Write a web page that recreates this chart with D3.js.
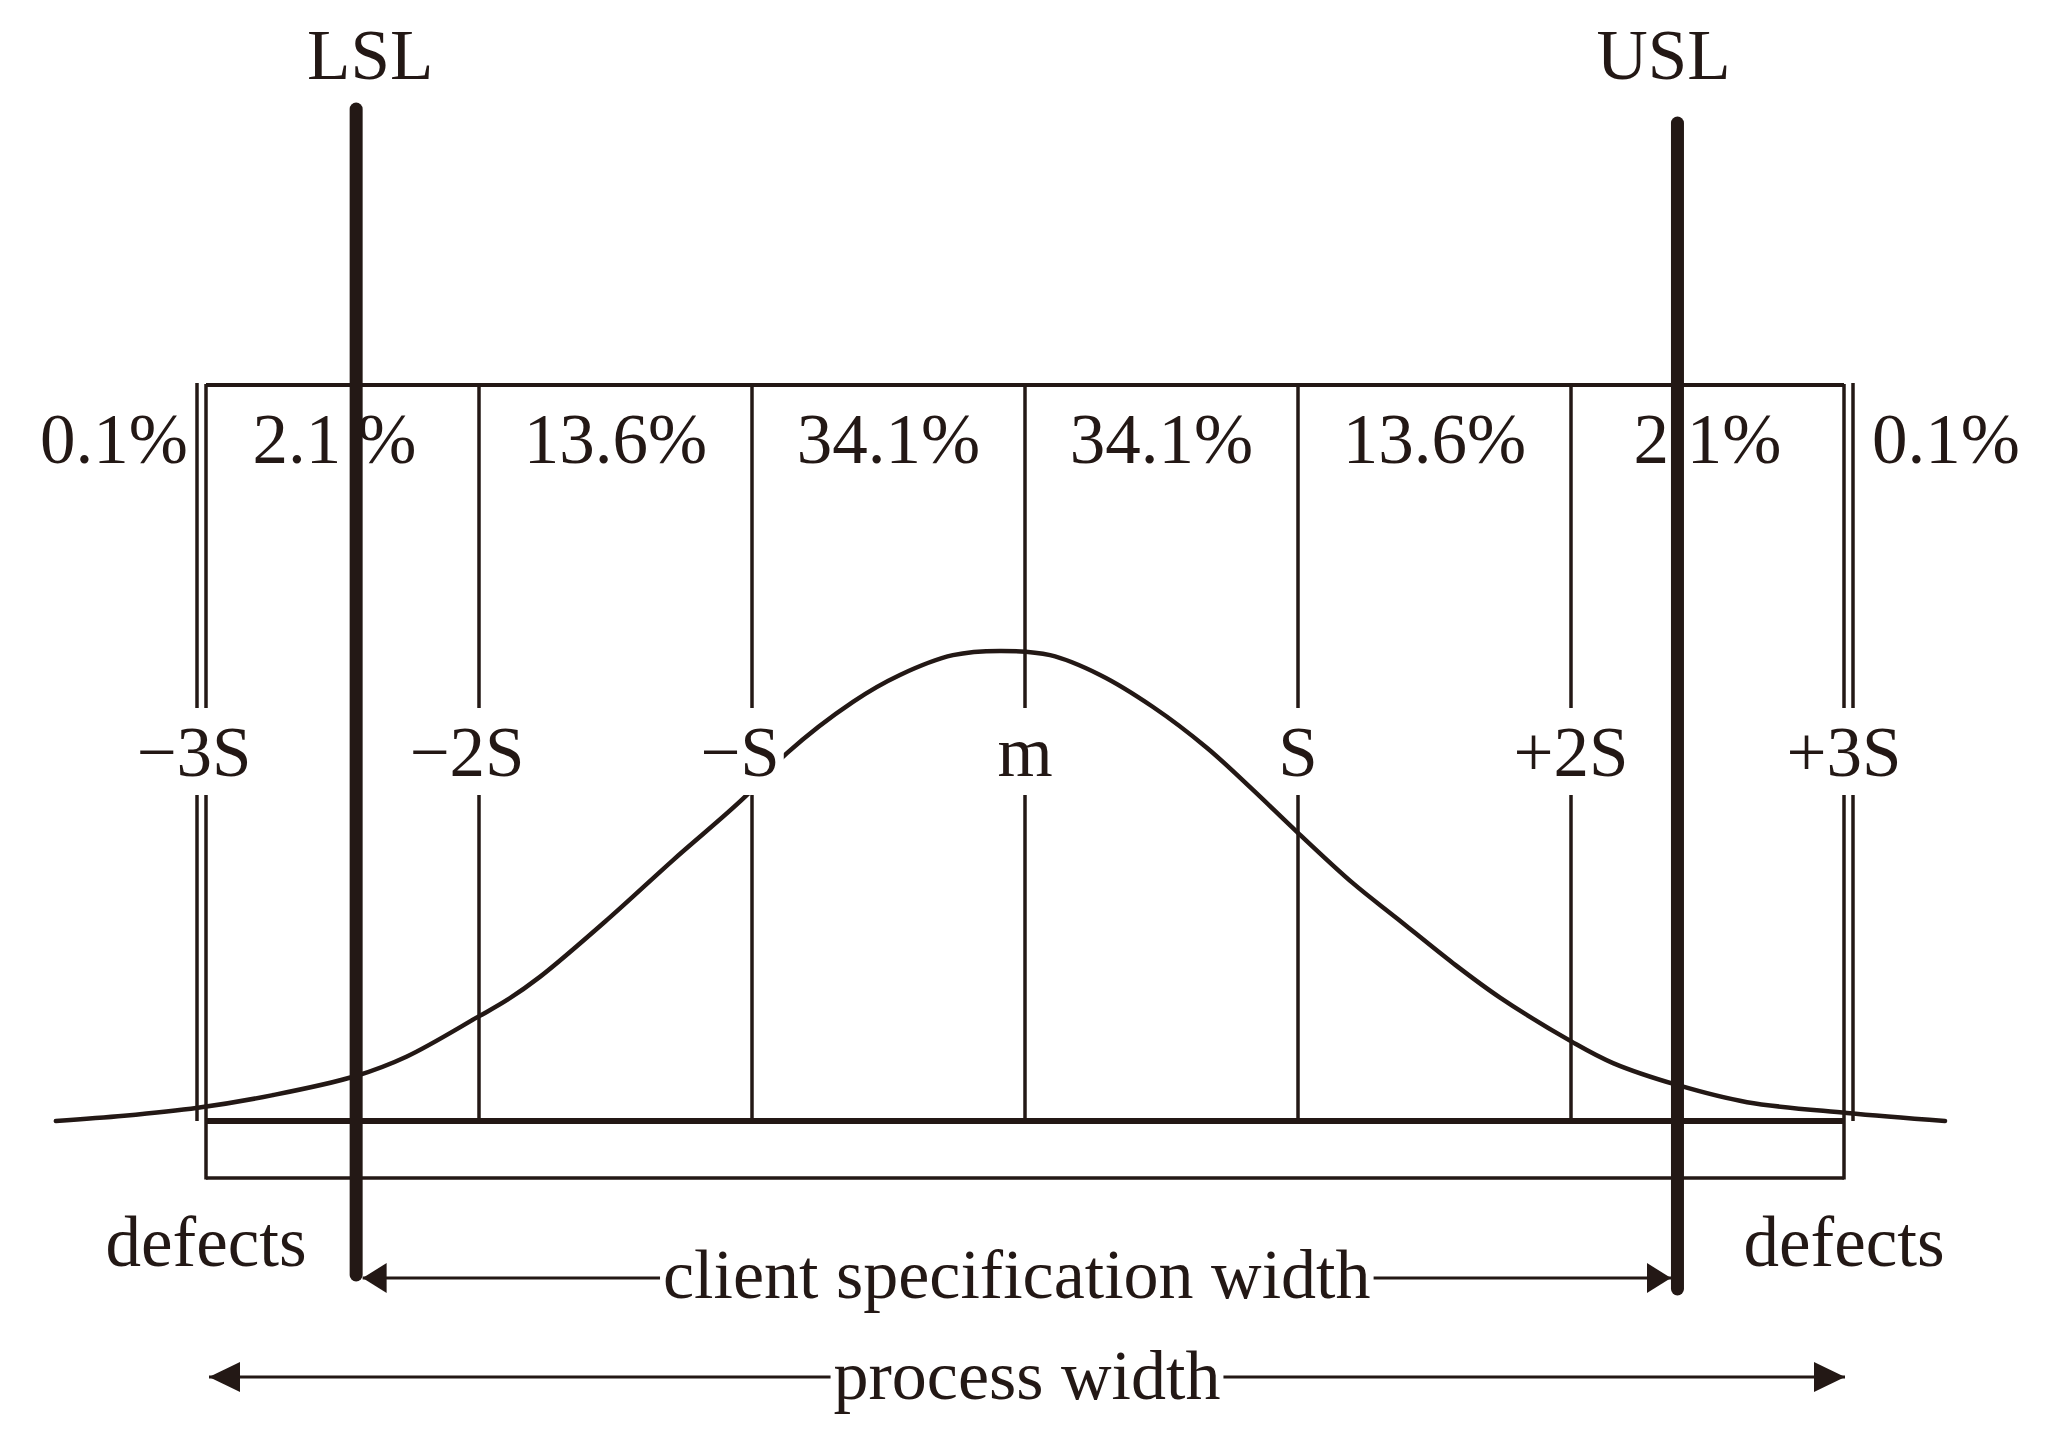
<!DOCTYPE html>
<html>
<head>
<meta charset="utf-8">
<script src="https://cdn.jsdelivr.net/npm/d3@7"></script>
<style>
  html, body { margin: 0; padding: 0; background: #ffffff; }
  svg { display: block; }
  text { font-family: "Liberation Serif", "Times New Roman", serif; fill: #231815; }
</style>
</head>
<body>
<svg id="chart" width="2060" height="1454"></svg>
<script>
// ---------- data ----------
const sigmaTicks = [-3, -2, -1, 0, 1, 2, 3];
const tickLabels = ["\u22123S", "\u22122S", "\u2212S", "m", "S", "+2S", "+3S"];
const bandShares = ["0.1%", "2.1%", "13.6%", "34.1%", "34.1%", "13.6%", "2.1%", "0.1%"];

// curve: position in sigma units, relative height (peak = 1)
const curveSigma = [-3.55, -3.30, -3.03, -2.755, -2.454, -2.264, -2.004, -1.897, -1.777, -1.531,
  -1.289, -1.026, -0.872, -0.630, -0.458, -0.264, -0.092, 0.092, 0.275, 0.469,
  0.667, 0.835, 0.996, 1.201, 1.363, 1.568, 1.740, 2.004, 2.154, 2.392,
  2.645, 3.011, 3.37];
const curveHeight = [0.0, 0.011, 0.028, 0.055, 0.095, 0.137, 0.221, 0.257, 0.306, 0.427,
  0.554, 0.688, 0.781, 0.890, 0.947, 0.989, 0.998, 0.989, 0.947, 0.879,
  0.792, 0.703, 0.614, 0.505, 0.430, 0.335, 0.262, 0.168, 0.123, 0.076,
  0.040, 0.017, 0.0];

const specNames = ["LSL", "USL"];
const specSigma = [-2.45, 2.39];
const tailLabel = "defects";
const clientLabel = "client specification width";
const processLabel = "process width";

// ---------- layout ----------
const INK = "#231815";
const svg = d3.select("#chart");
const x = d3.scaleLinear().domain([-3, 3]).range([206, 1844]);
const y = d3.scaleLinear().domain([0, 1]).range([1121, 650]);

const topY = 385, baseY = y(0), lowerY = 1178;
const fs = 71;

const g = svg.append("g");

// top line of the band box
g.append("line").attr("x1", x(-3)).attr("x2", x(3)).attr("y1", topY).attr("y2", topY)
  .attr("stroke", INK).attr("stroke-width", 4);

// column lines
g.selectAll("line.col").data(sigmaTicks).enter().append("line")
  .attr("class", "col")
  .attr("x1", d => x(d)).attr("x2", d => x(d))
  .attr("y1", topY - 1)
  .attr("y2", d => Math.abs(d) === 3 ? lowerY + 1.5 : baseY)
  .attr("stroke", INK).attr("stroke-width", 3.5);

// outer parallel lines at +-3S
g.selectAll("line.outer").data(sigmaTicks.filter(d => Math.abs(d) === 3)).enter().append("line")
  .attr("class", "outer")
  .attr("x1", d => x(d) + Math.sign(d) * 9).attr("x2", d => x(d) + Math.sign(d) * 9)
  .attr("y1", topY - 2).attr("y2", baseY)
  .attr("stroke", INK).attr("stroke-width", 3.5);

// lower box bottom line
g.append("line").attr("x1", x(-3)).attr("x2", x(3)).attr("y1", lowerY).attr("y2", lowerY)
  .attr("stroke", INK).attr("stroke-width", 3.5);

// thick base line
g.append("line").attr("x1", x(-3)).attr("x2", x(3)).attr("y1", baseY).attr("y2", baseY)
  .attr("stroke", INK).attr("stroke-width", 6);

// distribution curve
const curvePts = curveSigma.map((s, i) => [s, curveHeight[i]]);
const line = d3.line().x(d => x(d[0])).y(d => y(d[1])).curve(d3.curveCatmullRom.alpha(0.5));
g.append("path").datum(curvePts).attr("d", line)
  .attr("fill", "none").attr("stroke", INK).attr("stroke-width", 4.5)
  .attr("stroke-linecap", "round").attr("stroke-linejoin", "round");

// boundary labels with white knockout boxes
const tickG = g.selectAll("g.tick").data(sigmaTicks).enter().append("g").attr("class", "tick");
tickG.append("rect").attr("fill", "#ffffff");
tickG.append("text")
  .attr("x", d => x(d) + (d < 0 ? -12 : 0))
  .attr("y", 776)
  .attr("text-anchor", "middle")
  .attr("font-size", fs)
  .text((d, i) => tickLabels[i]);
tickG.each(function () {
  const t = d3.select(this).select("text").node().getBBox();
  d3.select(this).select("rect")
    .attr("x", t.x - 4).attr("width", t.width + 8)
    .attr("y", 708).attr("height", 87);
});

// band percentages
const bandPos = bandShares.map((s, i) => {
  if (i === 0) return x(-3) - 92;
  if (i === bandShares.length - 1) return x(3) + 102;
  return (x(sigmaTicks[i - 1]) + x(sigmaTicks[i])) / 2;
});
const pct = g.selectAll("text.pct").data(bandShares).enter().append("text")
  .attr("class", "pct")
  .attr("x", (d, i) => bandPos[i] - (i === 1 ? 8 : 0)).attr("y", 463)
  .attr("text-anchor", "middle").attr("font-size", fs);
pct.each(function (d, i) {
  const t = d3.select(this);
  if (i === 1) {
    // the reference leaves room for the LSL line before the percent sign
    t.append("tspan").text(d.slice(0, -1));
    t.append("tspan").attr("dx", 16).text("%");
  } else {
    t.text(d);
  }
});

// spec limit lines
const specTop = [109, 123], specBottom = [1275, 1289];
g.selectAll("line.spec").data(specSigma).enter().append("line")
  .attr("class", "spec")
  .attr("x1", d => x(d)).attr("x2", d => x(d))
  .attr("y1", (d, i) => specTop[i]).attr("y2", (d, i) => specBottom[i])
  .attr("stroke", INK).attr("stroke-width", 13).attr("stroke-linecap", "round");

g.selectAll("text.spec").data(specNames).enter().append("text")
  .attr("class", "spec")
  .attr("x", (d, i) => x(specSigma[i]) + (i === 0 ? 14 : -14))
  .attr("y", 79).attr("text-anchor", "middle").attr("font-size", fs)
  .text(d => d);

// defects labels
g.selectAll("text.defects").data([-3, 3]).enter().append("text")
  .attr("class", "defects")
  .attr("x", d => x(d)).attr("y", 1266)
  .attr("text-anchor", "middle").attr("font-size", fs)
  .text(tailLabel);

// arrows
function arrow(x1, x2, yy, headLen, headHalf, label, baseline) {
  const a = g.append("g");
  a.append("line").attr("x1", x1).attr("x2", x2).attr("y1", yy).attr("y2", yy)
    .attr("stroke", INK).attr("stroke-width", 3);
  a.append("path")
    .attr("d", `M${x1},${yy}L${x1 + headLen},${yy - headHalf}L${x1 + headLen},${yy + headHalf}Z`)
    .attr("fill", INK);
  a.append("path")
    .attr("d", `M${x2},${yy}L${x2 - headLen},${yy - headHalf}L${x2 - headLen},${yy + headHalf}Z`)
    .attr("fill", INK);
  const bg = a.append("rect").attr("fill", "#ffffff");
  const t = a.append("text").attr("x", (x1 + x2) / 2).attr("y", baseline)
    .attr("text-anchor", "middle").attr("font-size", 70).text(label);
  const b = t.node().getBBox();
  bg.attr("x", b.x - 3).attr("width", b.width + 6).attr("y", yy - 5).attr("height", 10);
}
arrow(x(specSigma[0]) + 6.5, x(specSigma[1]) - 6.5, 1278, 24, 15, clientLabel, 1298);
arrow(x(-3) + 3, x(3) + 1, 1377, 31, 15, processLabel, 1399);
</script>
</body>
</html>
